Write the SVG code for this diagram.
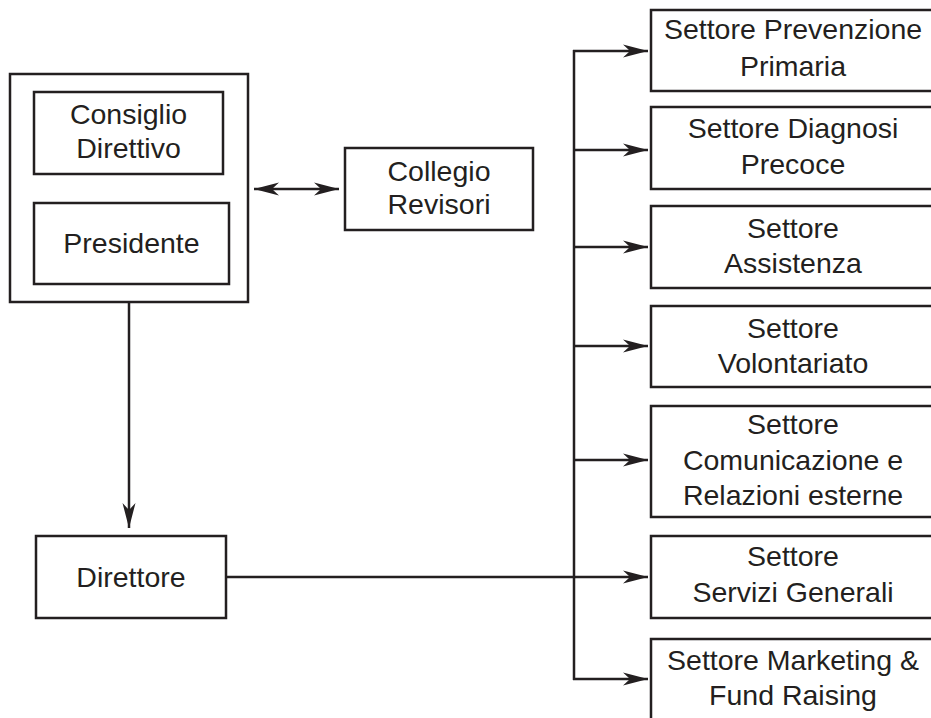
<svg xmlns="http://www.w3.org/2000/svg" width="931" height="718" viewBox="0 0 931 718">
<style>
.box{fill:#fff;stroke:#231f20;stroke-width:2.5}
.t{font-family:"Liberation Sans",Arial,sans-serif;font-size:28.5px;fill:#231f20;text-anchor:middle}
.ln{fill:none;stroke:#231f20;stroke-width:2.5}
</style>
<defs>
<marker id="ah" markerUnits="userSpaceOnUse" viewBox="-26 -8 28 16" refX="0" refY="0" markerWidth="28" markerHeight="16" orient="auto-start-reverse">
<path d="M0,0 L-25,-6.5 L-18,0 L-25,6.5 Z" fill="#231f20"/>
</marker>
</defs>
<rect width="931" height="718" fill="#fff"/>
<g id="connectors">
<line class="ln" x1="129" y1="302" x2="129" y2="528" marker-end="url(#ah)"/>
<line class="ln" x1="254" y1="189" x2="339" y2="189" marker-start="url(#ah)" marker-end="url(#ah)"/>
<line class="ln" x1="226" y1="577" x2="648" y2="577" marker-end="url(#ah)"/>
<line class="ln" x1="574" y1="50" x2="574" y2="680"/>
<line class="ln" x1="573" y1="51" x2="648" y2="51" marker-end="url(#ah)"/>
<line class="ln" x1="574" y1="150" x2="648" y2="150" marker-end="url(#ah)"/>
<line class="ln" x1="574" y1="247" x2="648" y2="247" marker-end="url(#ah)"/>
<line class="ln" x1="574" y1="346" x2="648" y2="346" marker-end="url(#ah)"/>
<line class="ln" x1="574" y1="460" x2="648" y2="460" marker-end="url(#ah)"/>
<line class="ln" x1="573" y1="679" x2="648" y2="679" marker-end="url(#ah)"/>
</g>
<g id="organi">
<rect class="box" x="10" y="74" width="238" height="228"/>
</g>
<g id="consiglio">
<rect class="box" x="34" y="92" width="189" height="82"/>
<text class="t" x="128.5" y="124">Consiglio</text>
<text class="t" x="128.5" y="158">Direttivo</text>
</g>
<g id="presidente">
<rect class="box" x="34" y="203" width="195" height="81"/>
<text class="t" x="131.5" y="253">Presidente</text>
</g>
<g id="collegio">
<rect class="box" x="345" y="148" width="188" height="82"/>
<text class="t" x="439" y="181">Collegio</text>
<text class="t" x="439" y="214">Revisori</text>
</g>
<g id="direttore">
<rect class="box" x="36" y="536" width="190" height="82"/>
<text class="t" x="131" y="587">Direttore</text>
</g>
<g id="prevenzione">
<rect class="box" x="651" y="10" width="290" height="81"/>
<text class="t" x="793" y="39">Settore Prevenzione</text>
<text class="t" x="793" y="76">Primaria</text>
</g>
<g id="diagnosi">
<rect class="box" x="651" y="107" width="290" height="82"/>
<text class="t" x="793" y="138">Settore Diagnosi</text>
<text class="t" x="793" y="174">Precoce</text>
</g>
<g id="assistenza">
<rect class="box" x="651" y="206" width="290" height="82"/>
<text class="t" x="793" y="238">Settore</text>
<text class="t" x="793" y="273">Assistenza</text>
</g>
<g id="volontariato">
<rect class="box" x="651" y="306" width="290" height="81"/>
<text class="t" x="793" y="338">Settore</text>
<text class="t" x="793" y="373">Volontariato</text>
</g>
<g id="comunicazione">
<rect class="box" x="651" y="406" width="290" height="111"/>
<text class="t" x="793" y="434">Settore</text>
<text class="t" x="793" y="470">Comunicazione e</text>
<text class="t" x="793" y="505">Relazioni esterne</text>
</g>
<g id="servizi">
<rect class="box" x="651" y="536" width="290" height="82"/>
<text class="t" x="793" y="566">Settore</text>
<text class="t" x="793" y="602">Servizi Generali</text>
</g>
<g id="marketing">
<rect class="box" x="651" y="639" width="290" height="90"/>
<text class="t" x="793" y="670">Settore Marketing &amp;</text>
<text class="t" x="793" y="705">Fund Raising</text>
</g>
</svg>
